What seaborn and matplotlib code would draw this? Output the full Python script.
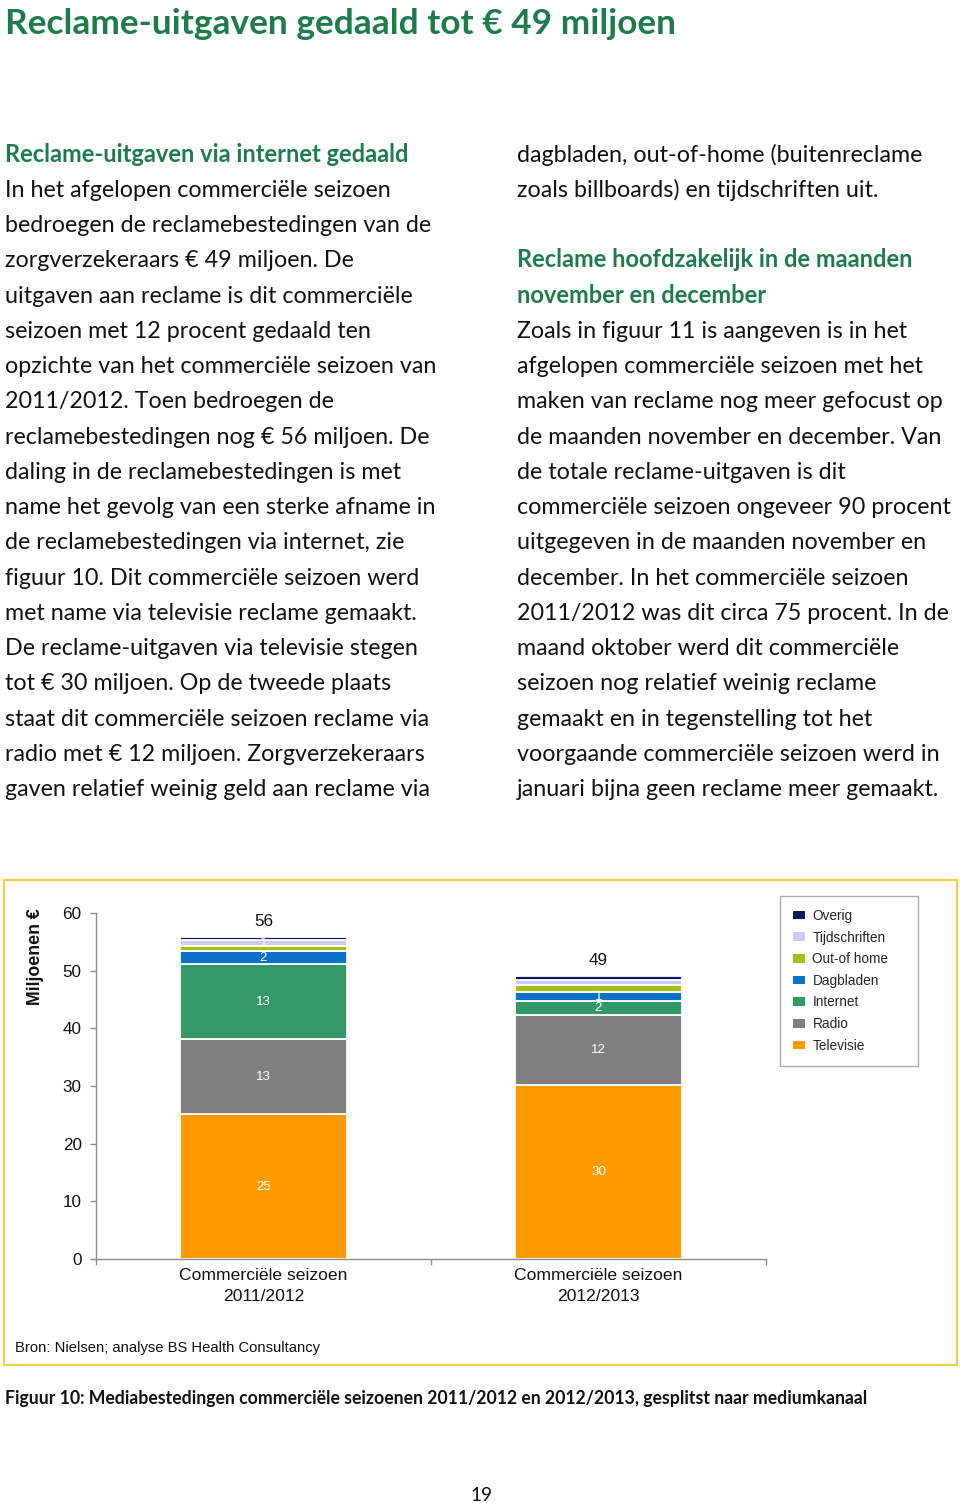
import numpy as np
import matplotlib
matplotlib.use("Agg")
import matplotlib.pyplot as plt
from matplotlib.patches import Patch, Rectangle
import seaborn as sns

# ---------------- data ----------------
seasons = ["Commerciële seizoen\n2011/2012", "Commerciële seizoen\n2012/2013"]
media = ["Televisie", "Radio", "Internet", "Dagbladen", "Out-of home", "Tijdschriften", "Overig"]
televisie = [25.1, 30.2]
radio = [13.0, 12.1]
internet = [13.0, 2.4]
dagbladen = [2.3, 1.6]
out_of_home = [0.8, 1.2]
tijdschriften = [1.1, 0.9]
overig = [0.5, 0.6]
televisie_lbl = ["25", "30"]
radio_lbl = ["13", "12"]
internet_lbl = ["13", "2"]
dagbladen_lbl = ["2", "1"]
out_of_home_lbl = ["", ""]
tijdschriften_lbl = ["1", ""]
overig_lbl = ["", ""]
yticks = [0, 10, 20, 30, 40, 50, 60]

title = "Reclame-uitgaven gedaald tot € 49 miljoen"
left_col = [
    ("h", "Reclame-uitgaven via internet gedaald"),
    ("p", "In het afgelopen commerciële seizoen"),
    ("p", "bedroegen de reclamebestedingen van de"),
    ("p", "zorgverzekeraars € 49 miljoen. De"),
    ("p", "uitgaven aan reclame is dit commerciële"),
    ("p", "seizoen met 12 procent gedaald ten"),
    ("p", "opzichte van het commerciële seizoen van"),
    ("p", "2011/2012. Toen bedroegen de"),
    ("p", "reclamebestedingen nog € 56 miljoen. De"),
    ("p", "daling in de reclamebestedingen is met"),
    ("p", "name het gevolg van een sterke afname in"),
    ("p", "de reclamebestedingen via internet, zie"),
    ("p", "figuur 10. Dit commerciële seizoen werd"),
    ("p", "met name via televisie reclame gemaakt."),
    ("p", "De reclame-uitgaven via televisie stegen"),
    ("p", "tot € 30 miljoen. Op de tweede plaats"),
    ("p", "staat dit commerciële seizoen reclame via"),
    ("p", "radio met € 12 miljoen. Zorgverzekeraars"),
    ("p", "gaven relatief weinig geld aan reclame via"),
]
right_col = [
    ("p", "dagbladen, out-of-home (buitenreclame"),
    ("p", "zoals billboards) en tijdschriften uit."),
    ("p", ""),
    ("h", "Reclame hoofdzakelijk in de maanden"),
    ("h", "november en december"),
    ("p", "Zoals in figuur 11 is aangeven is in het"),
    ("p", "afgelopen commerciële seizoen met het"),
    ("p", "maken van reclame nog meer gefocust op"),
    ("p", "de maanden november en december. Van"),
    ("p", "de totale reclame-uitgaven is dit"),
    ("p", "commerciële seizoen ongeveer 90 procent"),
    ("p", "uitgegeven in de maanden november en"),
    ("p", "december. In het commerciële seizoen"),
    ("p", "2011/2012 was dit circa 75 procent. In de"),
    ("p", "maand oktober werd dit commerciële"),
    ("p", "seizoen nog relatief weinig reclame"),
    ("p", "gemaakt en in tegenstelling tot het"),
    ("p", "voorgaande commerciële seizoen werd in"),
    ("p", "januari bijna geen reclame meer gemaakt."),
]
source = "Bron: Nielsen; analyse BS Health Consultancy"
caption = "Figuur 10: Mediabestedingen commerciële seizoenen 2011/2012 en 2012/2013, gesplitst naar mediumkanaal"
page_no = "19"

# ---------------- style ----------------
sns.set_style("ticks")
plt.rcParams["font.family"] = ["Liberation Sans", "DejaVu Sans"]
BODY = ["Lato", "DejaVu Sans"]
GREEN = "#1e7b4c"
colors = ["#ff9900", "#808080", "#339966", "#0a70c8", "#a5bf14", "#cdcdf3", "#0c1a66"]

W, H = 960, 1503
fig = plt.figure(figsize=(W / 100, H / 100), dpi=100)
fig.patch.set_facecolor("white")
r = fig.canvas.get_renderer()


def width_of(s, size, **kw):
    t = fig.text(0, 0, s, fontsize=size, **kw)
    w = t.get_window_extent(r).width
    t.remove()
    return w


def fx(x):
    return x / W


def fy(y):
    return 1 - y / H


# ---------------- page text ----------------
ts = 30 * 670 / width_of(title, 30, family=BODY, weight="bold")
fig.text(fx(5), fy(34), title, fontsize=ts, family=BODY, weight="bold",
         color=GREEN, va="baseline", ha="left")

ps = 20 * 387 / width_of("In het afgelopen commerciële seizoen", 20, family=BODY)
hs = 20 * 396 / width_of("Reclame hoofdzakelijk in de maanden", 20, family=BODY, weight="bold")

for x0, col in ((5, left_col), (517, right_col)):
    for i, (kind, s) in enumerate(col):
        if not s:
            continue
        yb = 161.7 + 35.25 * i
        if kind == "h":
            fig.text(fx(x0), fy(yb), s, fontsize=hs, family=BODY, weight="bold",
                     color=GREEN, va="baseline", ha="left")
        else:
            fig.text(fx(x0), fy(yb), s, fontsize=ps, family=BODY,
                     color="#111111", va="baseline", ha="left")

cs = 12 * 854 / width_of(caption, 12, family=BODY, weight="bold")
fig.text(fx(5), fy(1404), caption, fontsize=cs, family=BODY, weight="bold",
         color="#111111", va="baseline", ha="left")
ns = 12 * 22 / width_of(page_no, 12, family=BODY)
fig.text(fx(481), fy(1501), page_no, fontsize=ns, family=BODY,
         color="#111111", va="baseline", ha="center")

# chart frame
fig.patches.append(Rectangle((fx(4), fy(1365)), (957 - 4) / W, (1365 - 880) / H,
                             transform=fig.transFigure, fill=False,
                             edgecolor="#f2cf4a", linewidth=1.6))
ss = 10 * 303 / width_of(source, 10)
fig.text(fx(15), fy(1352), source, fontsize=ss, color="#111111", va="baseline", ha="left")

# ---------------- chart ----------------
ax = fig.add_axes([fx(96), fy(1259), (766 - 96) / W, (1259 - 913) / H])

series = [televisie, radio, internet, dagbladen, out_of_home, tijdschriften, overig]
labels = [televisie_lbl, radio_lbl, internet_lbl, dagbladen_lbl,
          out_of_home_lbl, tijdschriften_lbl, overig_lbl]
bottom = np.zeros(len(seasons))
for name, vals, col, lbl in zip(media, series, colors, labels):
    sns.barplot(x=seasons, y=vals, order=seasons, ax=ax, color=col, saturation=1,
                bottom=bottom, width=0.5, edgecolor="white", linewidth=1.3,
                errorbar=None)
    cont = ax.containers[-1]
    ax.bar_label(cont, labels=lbl, label_type="center", color="white", fontsize=9.6)
    bottom = bottom + np.array(vals)

totals = [f"{t:.0f}" for t in bottom]
ax.bar_label(ax.containers[-1], labels=totals, padding=6, fontsize=12.3, color="#111111")

ax.set_ylim(0, 60)
ax.set_yticks(yticks)
ax.set_xlim(-0.5, 1.5)
ax.set_xticks([0, 1], labels=seasons)
ax.set_xticks([-0.5, 0.5, 1.5], minor=True)
ax.tick_params(axis="x", which="major", length=0, pad=6.5, labelsize=12.6, colors="#111111")
for lab in ax.get_xticklabels():
    lab.set_linespacing(1.5)
ax.tick_params(axis="x", which="minor", length=4.5, width=1, direction="out", color="#8c8c8c")
ax.tick_params(axis="y", length=4.3, width=1, direction="out", color="#8c8c8c",
               pad=6, labelsize=12.3, labelcolor="#111111")
sns.despine(ax=ax)
for sp in ("left", "bottom"):
    ax.spines[sp].set_color("#8c8c8c")
    ax.spines[sp].set_linewidth(1)
ax.set_xlabel("")
ax.set_ylabel("Miljoenen €", fontsize=12.8, weight="bold", color="#111111",
              va="center", ha="center")
ax.yaxis.set_label_coords((36 - 96) / 670, (1259 - 957) / 346)

handles = [Patch(facecolor=c, edgecolor="none") for c in colors][::-1]
leg = ax.legend(handles, media[::-1], loc="upper left", mode="expand",
                bbox_to_anchor=(fx(780), fy(1062), 138 / W, 166 / H),
                bbox_transform=fig.transFigure,
                frameon=True, fancybox=False, edgecolor="#9a9a9a", fontsize=9.8,
                handlelength=0.88, handleheight=0.6, handletextpad=0.55,
                labelspacing=0.56, borderpad=0.95, borderaxespad=0)
leg.get_frame().set_linewidth(1.0)

fig.savefig("out.png", dpi=100, facecolor="white")
